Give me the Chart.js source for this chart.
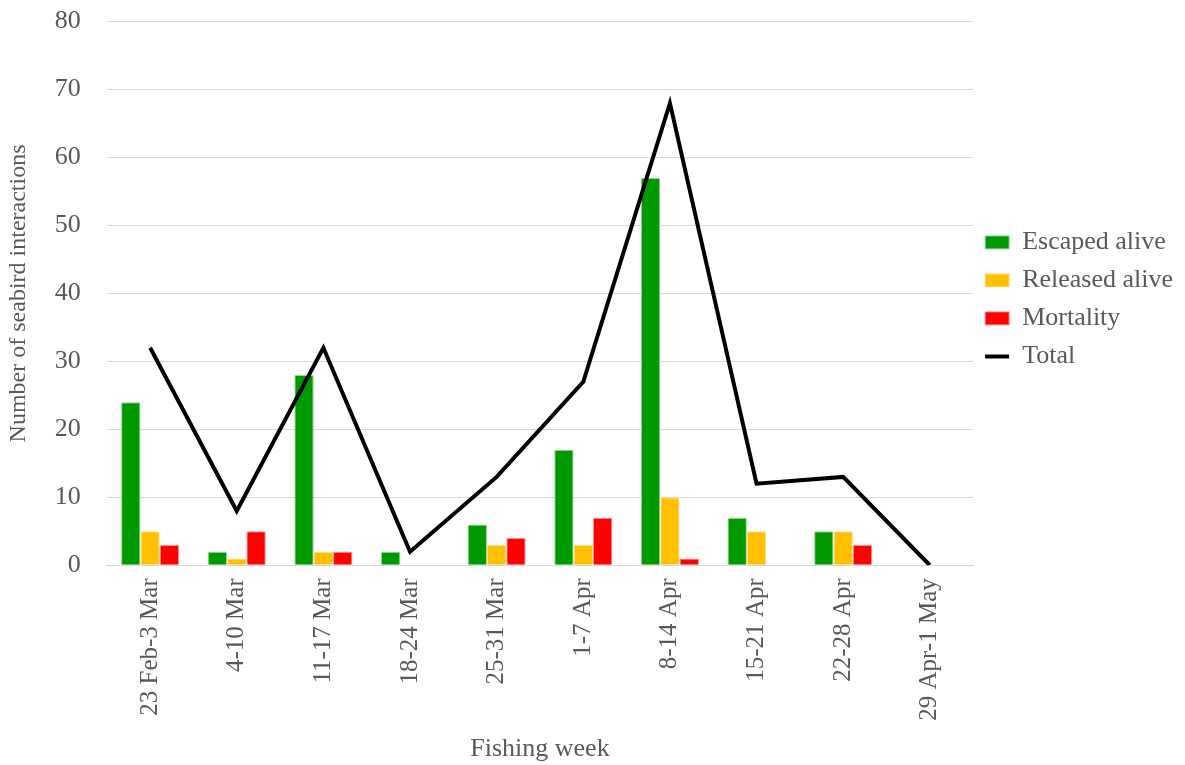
<!DOCTYPE html>
<html>
<head>
<meta charset="utf-8">
<script src="https://cdn.jsdelivr.net/npm/chart.js@4"></script>
<style>
  body { margin: 0; background: #fff; }
  #wrap { width: 1185px; height: 765px; }
</style>
</head>
<body>
<div id="wrap"><canvas id="chart"></canvas></div>
<script>
const weeks = ['23 Feb-3 Mar', '4-10 Mar', '11-17 Mar', '18-24 Mar', '25-31 Mar',
               '1-7 Apr', '8-14 Apr', '15-21 Apr', '22-28 Apr', '29 Apr-1 May'];
const escapedAlive = [24, 2, 28, 2, 6, 17, 57, 7, 5, 0];
const releasedAlive = [5, 1, 2, 0, 3, 3, 10, 5, 5, 0];
const mortality = [3, 5, 2, 0, 4, 7, 1, 0, 3, 0];
const total = [32, 8, 32, 2, 13, 27, 68, 12, 13, 0];
const legendOrder = ['Escaped alive', 'Released alive', 'Mortality', 'Total'];

const font = 'Liberation Serif, Times New Roman, serif';
const grey = '#595959';

new Chart(document.getElementById('chart'), {
    data: {
        labels: weeks,
        datasets: [
            {
                type: 'line',
                label: 'Total',
                data: total,
                borderColor: '#000',
                backgroundColor: '#000',
                borderWidth: 4,
                pointRadius: 0,
                pointStyle: 'line',
                tension: 0,
                order: 0
            },
            {
                type: 'bar',
                label: 'Escaped alive',
                data: escapedAlive,
                backgroundColor: '#009900',
                borderColor: '#9ad99a',
                borderWidth: 1,
                pointStyle: 'rect',
                order: 1
            },
            {
                type: 'bar',
                label: 'Released alive',
                data: releasedAlive,
                backgroundColor: '#ffc000',
                borderColor: '#ffe08a',
                borderWidth: 1,
                pointStyle: 'rect',
                order: 1
            },
            {
                type: 'bar',
                label: 'Mortality',
                data: mortality,
                backgroundColor: '#ff0000',
                borderColor: '#ff9090',
                borderWidth: 1,
                pointStyle: 'rect',
                order: 1
            }
        ]
    },
    options: {
        responsive: true,
        maintainAspectRatio: false,
        animation: false,
        layout: { padding: { top: 0, left: 4, right: 2, bottom: 0 } },
        datasets: {
            bar: { categoryPercentage: 0.67, barPercentage: 1 }
        },
        plugins: {
            tooltip: { enabled: false },
            legend: {
                position: 'right',
                align: 'start',
                title: {
                    display: true,
                    text: '',
                    padding: { top: 203, bottom: 0 }
                },
                labels: {
                    usePointStyle: true,
                    pointStyleWidth: 24,
                    boxHeight: 13,
                    padding: 12,
                    color: grey,
                    font: { family: font, size: 26 },
                    sort: (a, b) => legendOrder.indexOf(a.text) - legendOrder.indexOf(b.text)
                }
            }
        },
        scales: {
            x: {
                grid: { display: false, drawTicks: false },
                border: { display: true, color: '#d9d9d9', width: 1 },
                ticks: {
                    color: grey,
                    font: { family: font, size: 25 },
                    minRotation: 90,
                    maxRotation: 90,
                    padding: 13
                },
                title: {
                    display: true,
                    text: 'Fishing week',
                    color: grey,
                    font: { family: font, size: 26 },
                    padding: { top: 0, bottom: 0 }
                }
            },
            y: {
                min: 0,
                max: 80,
                ticks: {
                    stepSize: 10,
                    color: grey,
                    font: { family: font, size: 26 },
                    padding: 6
                },
                grid: { color: '#d9d9d9', lineWidth: 1, drawTicks: true, tickLength: 20, tickColor: 'rgba(0,0,0,0)' },
                border: { display: false },
                title: {
                    display: true,
                    text: 'Number of seabird interactions',
                    color: grey,
                    font: { family: font, size: 24 },
                    padding: { top: 0, bottom: 16 }
                }
            }
        }
    }
});
</script>
</body>
</html>
